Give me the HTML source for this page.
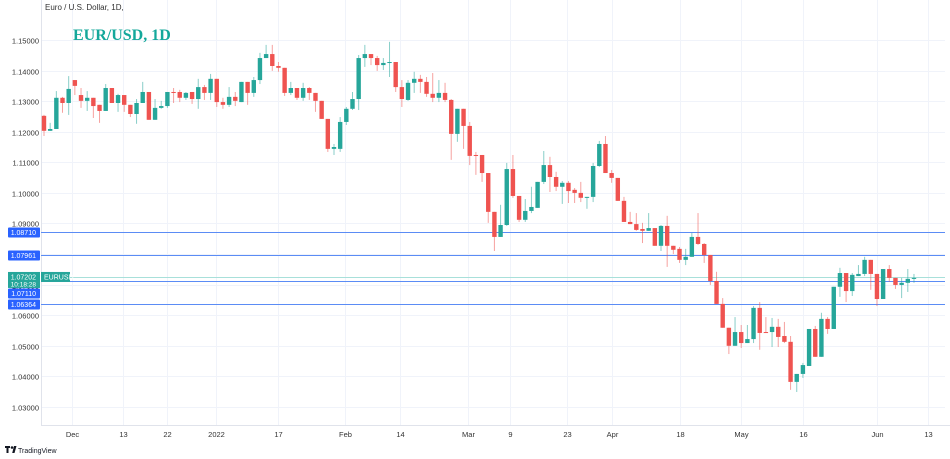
<!DOCTYPE html>
<html><head><meta charset="utf-8"><style>
html,body{margin:0;padding:0;background:#fff;}
svg{display:block;font-family:"Liberation Sans",sans-serif;}
</style></head><body>
<svg id="chart" width="950" height="459" viewBox="0 0 950 459">
<g id="grid"></g>
<g id="hlines"></g>
<g id="candles"></g>
<g id="yaxis"></g>
<g id="xaxis"></g>
<text x="45" y="10" font-size="8" fill="#333">Euro / U.S. Dollar, 1D,</text>
<text x="73" y="40" font-size="16" font-weight="bold" fill="#14a89b" font-family="Liberation Serif, serif">EUR/USD, 1D</text>
<g><path d="M5 446h5v2h-1.5v5h-2v-5H5z" fill="#131722"/><circle cx="12" cy="447.5" r="1.3" fill="#131722"/><path d="M14 446h2.5l-2 7h-2.3z" fill="#131722"/><text x="18" y="453" font-size="7" fill="#131722">TradingView</text></g>
</svg>
<script>
const opens=[1.1252,1.1203,1.1209,1.1311,1.1294,1.1369,1.1320,1.1301,1.1311,1.1288,1.1268,1.1343,1.1294,1.1320,1.1288,1.1258,1.1294,1.1330,1.1239,1.1278,1.1284,1.1330,1.1330,1.1311,1.1330,1.1307,1.1346,1.1327,1.1373,1.1297,1.1288,1.1314,1.1297,1.1363,1.1327,1.1369,1.1441,1.1454,1.1415,1.1409,1.1327,1.1343,1.1311,1.1343,1.1327,1.1301,1.1242,1.1144,1.1144,1.1232,1.1275,1.1307,1.1441,1.1454,1.1441,1.1418,1.1425,1.1428,1.1346,1.1304,1.1360,1.1373,1.1363,1.1324,1.1311,1.1327,1.1304,1.1193,1.1275,1.1219,1.1124,1.1124,1.1065,1.0938,1.0856,1.0895,1.1078,1.0990,1.0912,1.0941,1.0951,1.1036,1.1091,1.1052,1.1020,1.1033,1.1010,1.1000,1.0984,1.0987,1.1088,1.1160,1.1065,1.1049,1.0974,1.0905,1.0898,1.0882,1.0876,1.0885,1.0827,1.0892,1.0827,1.0817,1.0781,1.0791,1.0856,1.0833,1.0797,1.0712,1.0637,1.0559,1.0500,1.0545,1.0509,1.0522,1.0624,1.0545,1.0545,1.0562,1.0532,1.0513,1.0382,1.0408,1.0434,1.0555,1.0464,1.0588,1.0555,1.0693,1.0738,1.0679,1.0728,1.0735,1.0781,1.0735,1.0653,1.0751,1.0722,1.0699,1.0706,1.0719];
const highs=[1.1255,1.1229,1.1333,1.1314,1.1382,1.1369,1.1343,1.1333,1.1311,1.1288,1.1356,1.1343,1.1324,1.1320,1.1288,1.1307,1.1363,1.1330,1.1307,1.1301,1.1330,1.1343,1.1337,1.1330,1.1330,1.1373,1.1353,1.1389,1.1373,1.1311,1.1346,1.1330,1.1363,1.1363,1.1379,1.1458,1.1484,1.1484,1.1428,1.1409,1.1363,1.1343,1.1360,1.1346,1.1327,1.1301,1.1242,1.1160,1.1248,1.1281,1.1330,1.1451,1.1484,1.1454,1.1448,1.1441,1.1494,1.1428,1.1369,1.1369,1.1396,1.1386,1.1379,1.1392,1.1369,1.1360,1.1307,1.1275,1.1275,1.1232,1.1134,1.1124,1.1065,1.0938,1.0961,1.1098,1.1124,1.0990,1.0980,1.1020,1.1036,1.1137,1.1118,1.1069,1.1039,1.1039,1.1016,1.1036,1.0987,1.1098,1.1170,1.1186,1.1075,1.1049,1.0987,1.0938,1.0934,1.0902,1.0934,1.0885,1.0895,1.0925,1.0827,1.0823,1.0817,1.0869,1.0934,1.0836,1.0797,1.0742,1.0656,1.0559,1.0594,1.0568,1.0568,1.0630,1.0643,1.0594,1.0591,1.0588,1.0578,1.0532,1.0408,1.0444,1.0555,1.0565,1.0608,1.0594,1.0693,1.0755,1.0738,1.0738,1.0764,1.0791,1.0781,1.0735,1.0751,1.0764,1.0722,1.0722,1.0751,1.0735];
const lows=[1.1186,1.1203,1.1209,1.1262,1.1255,1.1320,1.1278,1.1268,1.1245,1.1229,1.1268,1.1294,1.1265,1.1265,1.1248,1.1226,1.1294,1.1239,1.1239,1.1275,1.1278,1.1294,1.1297,1.1304,1.1291,1.1275,1.1304,1.1304,1.1281,1.1275,1.1281,1.1284,1.1297,1.1288,1.1314,1.1356,1.1441,1.1399,1.1396,1.1317,1.1320,1.1304,1.1301,1.1304,1.1265,1.1242,1.1134,1.1124,1.1134,1.1222,1.1271,1.1271,1.1412,1.1418,1.1399,1.1402,1.1379,1.1330,1.1281,1.1301,1.1327,1.1327,1.1314,1.1297,1.1297,1.1297,1.1108,1.1167,1.1144,1.1091,1.1059,1.1036,1.0902,1.0810,1.0856,1.0892,1.0984,1.0905,1.0905,1.0934,1.0951,1.1029,1.1003,1.1006,1.0964,1.0967,1.0967,1.0970,1.0948,1.0970,1.1085,1.1065,1.1033,1.0974,1.0905,1.0898,1.0876,1.0836,1.0876,1.0827,1.0810,1.0758,1.0800,1.0771,1.0764,1.0791,1.0830,1.0771,1.0699,1.0637,1.0559,1.0473,1.0500,1.0493,1.0509,1.0509,1.0487,1.0542,1.0496,1.0496,1.0509,1.0356,1.0349,1.0395,1.0434,1.0464,1.0464,1.0539,1.0555,1.0660,1.0643,1.0663,1.0728,1.0728,1.0683,1.0630,1.0653,1.0709,1.0686,1.0656,1.0676,1.0706];
const closes=[1.1203,1.1209,1.1311,1.1294,1.1340,1.1350,1.1301,1.1311,1.1284,1.1268,1.1343,1.1294,1.1320,1.1288,1.1258,1.1294,1.1330,1.1239,1.1278,1.1284,1.1330,1.1327,1.1311,1.1327,1.1307,1.1346,1.1327,1.1373,1.1297,1.1288,1.1314,1.1301,1.1363,1.1327,1.1369,1.1441,1.1454,1.1415,1.1409,1.1327,1.1343,1.1311,1.1343,1.1327,1.1301,1.1242,1.1144,1.1150,1.1232,1.1275,1.1307,1.1441,1.1454,1.1441,1.1418,1.1425,1.1428,1.1346,1.1307,1.1360,1.1373,1.1363,1.1324,1.1311,1.1327,1.1304,1.1193,1.1275,1.1219,1.1121,1.1121,1.1065,1.0938,1.0856,1.0895,1.1078,1.0990,1.0912,1.0941,1.0954,1.1036,1.1091,1.1052,1.1020,1.1033,1.1006,1.1000,1.0984,1.0987,1.1088,1.1160,1.1065,1.1049,1.0974,1.0905,1.0898,1.0879,1.0876,1.0885,1.0827,1.0892,1.0827,1.0814,1.0781,1.0791,1.0856,1.0833,1.0797,1.0712,1.0637,1.0559,1.0500,1.0545,1.0509,1.0522,1.0624,1.0542,1.0542,1.0562,1.0529,1.0513,1.0382,1.0408,1.0437,1.0555,1.0464,1.0588,1.0555,1.0693,1.0738,1.0679,1.0732,1.0735,1.0781,1.0735,1.0653,1.0751,1.0722,1.0699,1.0706,1.0719,1.0722];
const priceTicks=[1.15,1.14,1.13,1.12,1.11,1.10,1.09,1.08,1.07,1.06,1.05,1.04,1.03];
const levels=[1.08710,1.07961,1.07110,1.06364];
const lastPrice=1.07202;
const timeLabels=["Dec","13","22","2022","17","Feb","14","Mar","9","23","Apr","18","May","16","Jun","13"];
const timeLabelBars=[4.5,12.8,20,27.9,38,48.8,57.7,68.7,75.5,84.8,92,103,113,123,135,143.3];

const NS="http://www.w3.org/2000/svg";
const X0=44, STEP=6.17, PLOT_L=41, PLOT_R=945, PLOT_B=425;
function xScale(i){return X0+i*STEP;}
function yScale(p){return 40+(1.15-p)*3058;}
function mk(tag,attrs,parent){const e=document.createElementNS(NS,tag);for(const k in attrs)e.setAttribute(k,attrs[k]);parent.appendChild(e);return e;}
const grid=document.getElementById('grid'),hl=document.getElementById('hlines'),cg=document.getElementById('candles'),ya=document.getElementById('yaxis'),xa=document.getElementById('xaxis');

priceTicks.forEach(p=>{
  const y=Math.round(yScale(p))+0.5;
  const l=mk('line',{x1:PLOT_L,x2:PLOT_R,y1:y,y2:y,stroke:'#f0f3fa','stroke-width':1},grid);
  
  
  const t=mk('text',{x:39,y:y+3,'font-size':7.5,fill:'#333','text-anchor':'end'},ya);
  t.textContent=p.toFixed(5);
  
  
});
timeLabels.forEach((lab,i)=>{
  const x=Math.round(xScale(timeLabelBars[i]))+0.5;
  const l=mk('line',{x1:x,x2:x,y1:0,y2:PLOT_B,stroke:'#f0f3fa','stroke-width':1},grid);
  
  
  const t=mk('text',{x:x,y:437,'font-size':7.5,fill:'#333','text-anchor':'middle'},xa);
  t.textContent=lab;
  
  
});
const ax1=mk('line',{x1:PLOT_L+0.5,x2:PLOT_L+0.5,y1:0,y2:PLOT_B,stroke:'#e0e3eb'},grid);


const ax2=mk('line',{x1:PLOT_L,x2:950,y1:PLOT_B+0.5,y2:PLOT_B+0.5,stroke:'#e0e3eb'},grid);



const ly=yScale(lastPrice);
const lp=mk('line',{x1:PLOT_L,x2:PLOT_R,y1:ly-1,y2:ly-1,stroke:'#a8e0da','stroke-width':1},hl);



levels.forEach(p=>{
  const y=Math.round(yScale(p))+0.5;
  const l=mk('line',{x1:PLOT_L,x2:PLOT_R,y1:y,y2:y,stroke:'#5b8cf5','stroke-width':1},hl);
  
  
  // avoid overlap with the last-price badge (TradingView pushes labels apart)
  let by=y;
  if(Math.abs(y-ly)<14) by=ly+15;
  const r=mk('rect',{x:8,y:by-5,width:32,height:10,fill:'#2962ff',rx:1},ya);
  
  
  const t=mk('text',{x:36,y:by+2.5,'font-size':7,fill:'#fff','text-anchor':'end'},ya);
  t.textContent=p.toFixed(5);
  
  
});

opens.forEach((o,i)=>{
  const c=closes[i],h=highs[i],lo=lows[i];
  const up=c>=o;
  const col=up?'#26a69a':'#ef5350';
  const x=xScale(i);
  const w=mk('line',{x1:x,x2:x,y1:yScale(h),y2:yScale(lo),stroke:col,'stroke-opacity':0.55,'stroke-width':1},cg);
  
  
  const top=yScale(Math.max(o,c)),bot=yScale(Math.min(o,c));
  const b=mk('rect',{x:x-2.2,y:top,width:4.4,height:Math.max(1,bot-top),fill:col},cg);
  
  
});

const lr=mk('rect',{x:8,y:ly-6.5,width:32,height:16,fill:'#26a69a'},ya);


const lt=mk('text',{x:36,y:ly+1,'font-size':7,fill:'#fff','text-anchor':'end'},ya);
lt.textContent=lastPrice.toFixed(5);


const ct=mk('text',{x:36,y:ly+8,'font-size':6.5,fill:'#fff','text-anchor':'end'},ya);
ct.textContent='10:18:28';


const sr=mk('rect',{x:41,y:ly-6.5,width:29,height:10,fill:'#26a69a'},ya);


const st=mk('text',{x:44,y:ly+1,'font-size':7,fill:'#fff'},ya);
st.textContent='EURUSD';


</script>
</body></html>
